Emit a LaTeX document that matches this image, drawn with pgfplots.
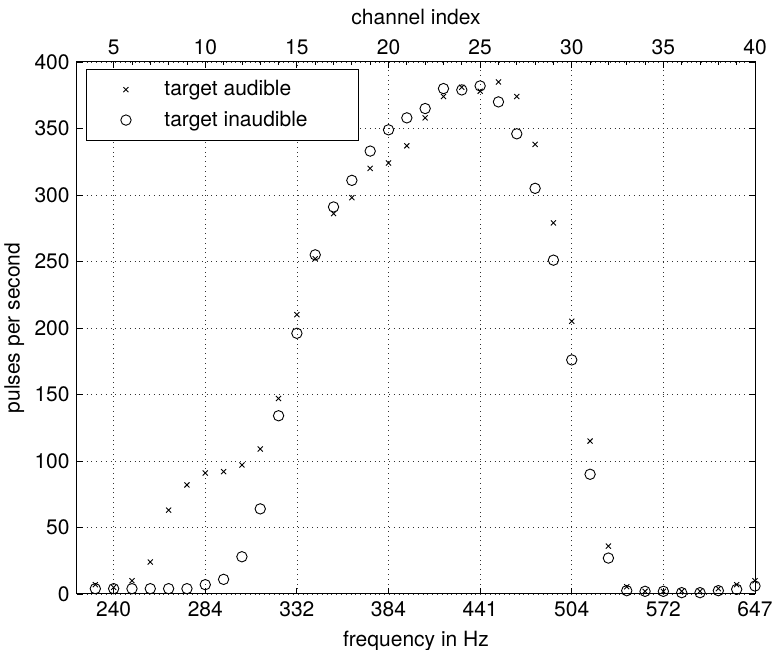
\documentclass[border=0pt]{standalone}
\usepackage{fontspec}
\setmainfont{TeX Gyre Heros}
\usepackage{pgfplots}
\usepackage{pgfplotstable}
\pgfplotsset{compat=1.18}

% pulses per second for each channel
\pgfplotstableread{
ch  aud  inaud
4   7    4
5   5    4
6   10   4
7   24   4
8   63   4
9   82   4
10  91   7
11  92   11
12  97   28
13  109  64
14  147  134
15  210  196
16  252  255
17  286  291
18  298  311
19  320  333
20  324  349
21  337  358
22  358  365
23  374  380
24  381  379
25  378  382
26  385  370
27  374  346
28  338  305
29  279  251
30  205  176
31  115  90
32  36   27
33  5.5  2.5
34  2    2
35  2    2
36  2    1
37  2    1
38  4    2.5
39  7    3.5
40  10   6
}\pulses

\pgfplotsset{
  matlab/.style={
    scale only axis, width=339pt, height=266pt,
    xmin=3, xmax=40, ymin=0, ymax=400,
    tick align=inside, major tick length=3pt, minor tick length=1.5pt,
    tick style={black, line width=0.4pt},
    axis line style={black, line width=0.5pt},
    /pgf/number format/assume math mode=true,
    tick label style={font=\fontsize{10.5}{12.6}\selectfont},
    label style={font=\fontsize{10.5}{12.6}\selectfont},
  }
}

\begin{document}
\fontsize{10.5}{12.6}\selectfont
\begin{tikzpicture}
\begin{axis}[matlab, name=main,
    xtick={5,10,...,40},
    xticklabels={240,284,332,384,441,504,572,647},
    ytick={0,50,...,400},
    grid=major, grid style={black!80, dotted, line width=0.35pt},
    xlabel={frequency in Hz}, ylabel={pulses per second},
    ylabel style={yshift=-2pt},
    clip=false,
    legend cell align=left,
    legend style={at={(rel axis cs:0.0133,0.987)}, anchor=north west,
      draw=black, line width=0.5pt, font=\fontsize{10.5}{12.6}\selectfont,
      inner xsep=6pt, inner ysep=3.5pt, row sep=2pt,
      /tikz/every odd column/.append style={column sep=8pt}},
    legend image code/.code={\path (-13.5pt,0) (9pt,0);
      \draw[#1] plot coordinates {(0pt,0pt)};},
]
\addplot[only marks, mark=x, mark size=1.8pt, black, line width=0.45pt]
  table[x=ch, y=aud] {\pulses};
\addlegendentry{\makebox[89pt][l]{target audible}}
\addplot[only marks, mark=o, mark size=2.6pt, black, line width=0.45pt]
  table[x=ch, y=inaud] {\pulses};
\addlegendentry{\makebox[89pt][l]{target inaudible}}
\end{axis}
\begin{axis}[matlab, at={(main.south west)}, anchor=south west,
    axis x line*=top, axis y line=none,
    xtick={5,10,...,40}, minor x tick num=4,
    xlabel={channel index},
]
\addplot[draw=none] coordinates {(3,0)};
\end{axis}
\pgfresetboundingbox
\path ([shift={(-38.5pt,-28pt)}]main.south west)
  rectangle ([shift={(8.5pt,31pt)}]main.north east);
\end{tikzpicture}
\end{document}
